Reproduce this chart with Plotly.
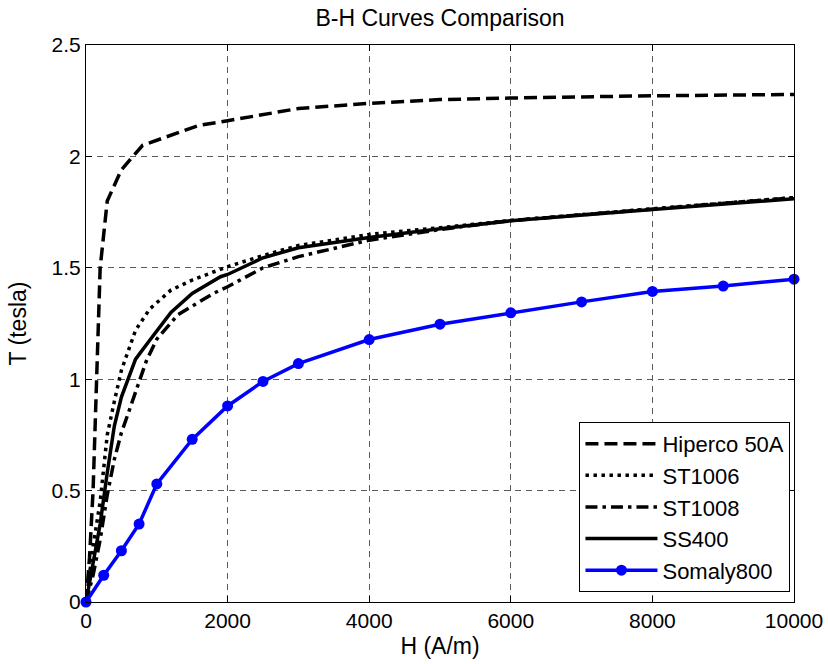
import plotly.graph_objects as go

# ---- data ----
hiperco_H = [0, 50, 100, 150, 200, 300, 500, 800, 1600, 2000, 3000, 4000, 5000, 6000, 8000, 10000]
hiperco_B = [0, 0.2, 0.5, 1.0, 1.5, 1.8, 1.94, 2.05, 2.14, 2.16, 2.215, 2.238, 2.255, 2.262, 2.272, 2.278]

st1006_H = [0, 100, 200, 300, 400, 500, 700, 900, 1200, 1500, 2000, 2500, 3000, 4000, 5000, 6000, 8000, 10000]
st1006_B = [0, 0.25, 0.45, 0.75, 0.9, 1.04, 1.22, 1.315, 1.40, 1.445, 1.505, 1.555, 1.60, 1.65, 1.68, 1.712, 1.765, 1.815]

st1008_H = [0, 100, 200, 300, 400, 500, 600, 700, 850, 1000, 1300, 1800, 2000, 2500, 3000, 4000, 5000, 6000, 8000, 10000]
st1008_B = [0, 0.12, 0.28, 0.48, 0.64, 0.76, 0.85, 0.94, 1.08, 1.18, 1.29, 1.385, 1.415, 1.50, 1.55, 1.624, 1.672, 1.712, 1.765, 1.815]

ss400_H = [0, 100, 200, 300, 400, 500, 600, 700, 900, 1200, 1500, 1900, 2000, 2500, 3000, 4000, 5000, 6000, 8000, 10000]
ss400_B = [0, 0.17, 0.35, 0.58, 0.79, 0.92, 1.0, 1.09, 1.175, 1.30, 1.385, 1.46, 1.47, 1.545, 1.59, 1.636, 1.675, 1.711, 1.762, 1.81]

somaly_H = [0, 250, 500, 750, 1000, 1500, 2000, 2500, 3000, 4000, 5000, 6000, 7000, 8000, 9000, 10000]
somaly_B = [0, 0.12, 0.23, 0.35, 0.53, 0.73, 0.88, 0.99, 1.07, 1.178, 1.247, 1.298, 1.347, 1.394, 1.418, 1.449]

x_ticks = [0, 2000, 4000, 6000, 8000, 10000]
y_ticks = [0, 0.5, 1, 1.5, 2, 2.5]

FONT = "Liberation Sans, Arial, sans-serif"
LW = 3.5

fig = go.Figure()
fig.add_trace(go.Scatter(x=hiperco_H, y=hiperco_B, mode="lines", name="Hiperco 50A",
                         line=dict(color="black", width=LW, dash="13px,6px")))
fig.add_trace(go.Scatter(x=st1006_H, y=st1006_B, mode="lines", name="ST1006",
                         line=dict(color="black", width=LW, dash="3.5px,4.5px")))
fig.add_trace(go.Scatter(x=st1008_H, y=st1008_B, mode="lines", name="ST1008",
                         line=dict(color="black", width=LW, dash="12px,5px,3.5px,5px")))
fig.add_trace(go.Scatter(x=ss400_H, y=ss400_B, mode="lines", name="SS400",
                         line=dict(color="black", width=LW)))
fig.add_trace(go.Scatter(x=somaly_H, y=somaly_B, mode="lines+markers", name="Somaly800",
                         line=dict(color="#0000ff", width=LW),
                         marker=dict(color="#0000ff", size=11, symbol="circle"),
                         cliponaxis=False))

axis_common = dict(
    showline=True, linecolor="black", linewidth=1, mirror="allticks",
    ticks="inside", ticklen=6, tickcolor="black",
    showgrid=True, gridcolor="#5a5a5a", gridwidth=1, griddash="6px,5px",
    zeroline=False, tickfont=dict(family=FONT, size=21, color="black"),
    automargin=False,
)

fig.update_xaxes(range=[0, 10000], tickvals=x_ticks, ticktext=[str(v) for v in x_ticks],
                 title=dict(text="H (A/m)", font=dict(family=FONT, size=23, color="black"), standoff=6),
                 **axis_common)
fig.update_yaxes(range=[0, 2.5], tickvals=y_ticks, ticktext=["0", "0.5", "1", "1.5", "2", "2.5"],
                 title=dict(text="T (tesla)", font=dict(family=FONT, size=23, color="black"), standoff=18),
                 **axis_common)

fig.update_layout(
    width=828, height=664,
    margin=dict(l=86, r=34, t=45, b=62, pad=0),
    paper_bgcolor="white", plot_bgcolor="white",
    title=dict(text="B-H Curves Comparison", x=0.5, xref="paper", xanchor="center",
               y=0.985, yanchor="top", font=dict(family=FONT, size=23, color="black")),
    legend=dict(x=0.995, y=0.018, xanchor="right", yanchor="bottom",
                bgcolor="white", bordercolor="black", borderwidth=1,
                font=dict(family=FONT, size=22, color="black"),
                itemwidth=72, tracegroupgap=0),
    showlegend=True,
)

fig.write_html("out.html")
